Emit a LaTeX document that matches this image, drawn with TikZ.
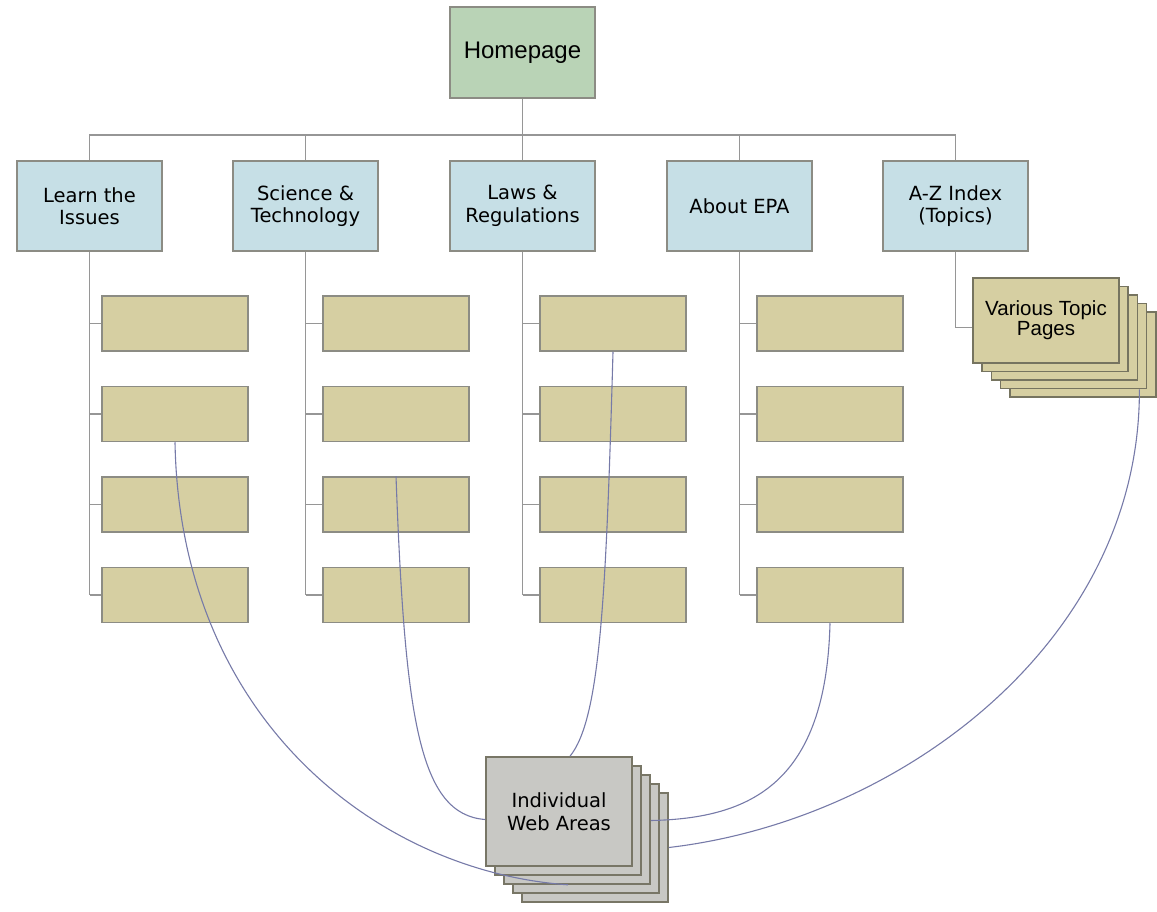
\documentclass[tikz,border=0pt]{standalone}
\usepackage{fontspec}
\setmainfont{DejaVu Sans}
\newfontfamily\arialfont{Liberation Sans}
\definecolor{homegreen}{RGB}{185, 211, 182}
\definecolor{topblue}{RGB}{198, 223, 230}
\definecolor{subtan}{RGB}{214, 207, 162}
\definecolor{pagegray}{RGB}{200, 200, 196}
\definecolor{boxline}{RGB}{140, 140, 132}
\definecolor{stackline}{RGB}{118, 116, 96}
\definecolor{treeline}{RGB}{150, 150, 150}
\definecolor{linkblue}{RGB}{118, 122, 168}
\usetikzlibrary{positioning, calc}
\tikzset{
  homebox/.style={draw=boxline, fill=homegreen, line width=1.5pt, minimum width=145pt, minimum height=91pt, inner sep=0pt, font=\arialfont\fontsize{24}{28}\selectfont},
  topbox/.style={draw=boxline, fill=topblue, line width=1.5pt, minimum width=145pt, minimum height=90pt, inner sep=0pt, align=center, font=\fontsize{19.5}{22.5}\selectfont},
  subbox/.style={draw=boxline, fill=subtan, line width=1.5pt, minimum width=146pt, minimum height=55pt, inner sep=0pt},
  topicpage/.style={draw=stackline, fill=subtan, line width=1.6pt, minimum width=146pt, minimum height=85pt, inner sep=0pt, align=center, font=\arialfont\fontsize{20.5}{20}\selectfont},
  areapage/.style={draw=stackline!80!gray, fill=pagegray, line width=1.6pt, minimum width=146pt, minimum height=109pt, inner sep=0pt, align=center, font=\fontsize{19.5}{22.5}\selectfont},
  tree/.style={draw=treeline, line width=1.8pt},
  link/.style={draw=linkblue, line width=1.1pt}
}
\begin{document}
\begin{tikzpicture}[x=1pt, y=-1pt]
  \useasboundingbox (0,0) rectangle (1157,911);

  % Top of the site
  \node[homebox] (home) at (522.5,52.5) {Homepage};

  \node[topbox] (learn) at (89.5,206) {Learn the\\Issues};
  \node[topbox] (sci) at (305.5,206) {Science \&\\Technology};
  \node[topbox] (laws) at (522.5,206) {Laws \&\\Regulations};
  \node[topbox] (about) at (739.5,206) {About EPA};
  \node[topbox] (atoz) at (955.5,206) {A-Z Index\\(Topics)};

  \foreach \sec in {learn, sci, laws, about, atoz}
    \draw[tree] (home.south) -- ++(0,36) -| (\sec.north);

  % Second level pages
  \foreach \sec/\x in {learn/175, sci/396, laws/613, about/830} {
    \foreach \i/\y in {1/323.5, 2/414, 3/504.5, 4/595} {
      \node[subbox] (\sec\i) at (\x,\y) {};
      \draw[tree] (\sec.south |- \sec\i.west) -- (\sec\i.west);
    }
    \draw[tree] (\sec.south) -- (\sec.south |- \sec4.west);
  }

  % Stack of topic pages
  \foreach \k in {4,3,2,1}
    \node[topicpage] (topic\k) at ({1046+9.2*\k},{320.5+8.5*\k}) {};
  \node[topicpage] (topic) at (1046,320.5) {Various Topic\\Pages};
  \draw[tree] (atoz.south) |- ([yshift=-7pt]topic.west);

  % Stack of web areas
  \foreach \k in {4,3,2,1}
    \node[areapage] (area\k) at ({559+9*\k},{811.5+9*\k}) {};
  \node[areapage] (area) at (559,811.5) {Individual\\Web Areas};

  % Links into the web areas
  \draw[link] (learn2.south) .. controls +(5,279) and +(-188,-13) .. ([xshift=-9pt]area2.south);
  \draw[link] (sci3.north) .. controls +(9,243) and +(-66,-5) .. ([yshift=-8pt]area.west);
  \draw[link] (laws1.south) .. controls +(-7,249) and +(30,-37) .. ([xshift=11pt]area.north);
  \draw[link] (about4.south) .. controls +(-4,160) and +(100,-2) .. ([yshift=9pt]area2.east);
  \draw[link] ([xshift=-8pt]topic3.south east) .. controls +(1,252) and +(232,-27) .. (area4.east);
\end{tikzpicture}
\end{document}
